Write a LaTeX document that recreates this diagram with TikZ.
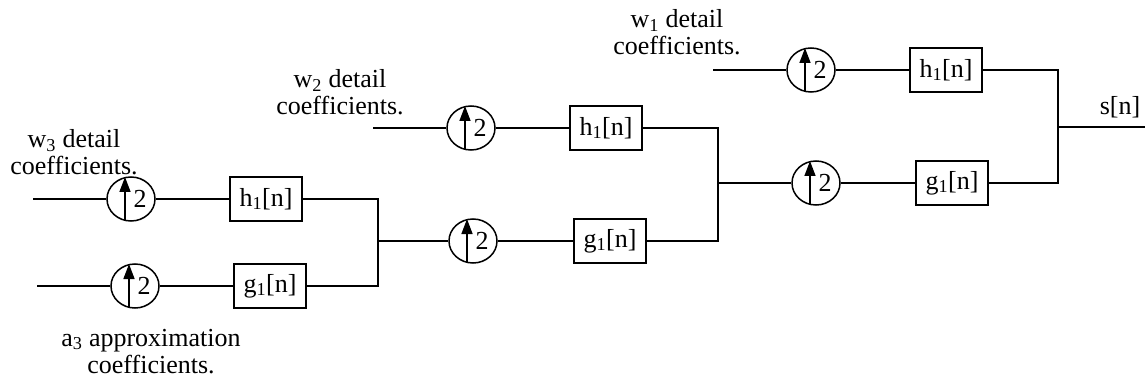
\documentclass[tikz,border=0pt]{standalone}
\usepackage{fontspec}
\setmainfont{Liberation Serif}
\usetikzlibrary{arrows.meta,shapes.geometric,calc}
\begin{document}
\begin{tikzpicture}[x=1pt,y=-1pt,
  line width=1.5pt,
  every node/.style={font=\fontsize{26}{27}\selectfont},
  upbox/.style={draw,ellipse,minimum width=48pt,minimum height=44pt,inner sep=0pt},
  filt/.style={draw,rectangle,minimum width=72pt,minimum height=44pt,inner sep=0pt},
  lbl/.style={align=center,inner sep=0pt,anchor=base},
  uparr/.style={-{Triangle[length=15pt,width=11pt]},line width=1.5pt}
]
\useasboundingbox (0,0) rectangle (1145,382);
% left stage
\coordinate (inA) at (33,199);
\coordinate (inB) at (37,286);
\node[upbox] (uA) at (131,199) {\hspace*{18pt}2};
\node[filt]  (hA) at (266,199) {h\textsubscript{1}[n]};
\node[upbox] (uB) at (135,286) {\hspace*{18pt}2};
\node[filt]  (gB) at (270,286) {g\textsubscript{1}[n]};
\coordinate (j1) at (378,241);
% middle stage
\coordinate (inD) at (373,128);
\node[upbox] (uD) at (471,128) {\hspace*{18pt}2};
\node[filt]  (hD) at (606,128) {h\textsubscript{1}[n]};
\node[upbox] (uC) at (473,241) {\hspace*{18pt}2};
\node[filt]  (gC) at (610,241) {g\textsubscript{1}[n]};
\coordinate (j2) at (718,183);
% right stage
\coordinate (inF) at (713,70);
\node[upbox] (uF) at (811,70) {\hspace*{18pt}2};
\node[filt]  (hF) at (946,70) {h\textsubscript{1}[n]};
\node[upbox] (uE) at (816,183) {\hspace*{18pt}2};
\node[filt]  (gE) at (952,183) {g\textsubscript{1}[n]};
\coordinate (j3) at (1058,127);
\coordinate (out) at (1145,127);
% arrows inside upsamplers
\foreach \n in {uA,uB,uC,uD,uE,uF}
  \draw[uparr] ($(\n.center)+(-6,21)$) -- ($(\n.center)+(-6,-22)$);
% connections
\draw (inA) -- (uA); \draw (uA) -- (hA);
\draw (inB) -- (uB); \draw (uB) -- (gB);
\draw (hA.east) -| (j1) |- (gB.east);
\draw (j1) -- (uC); \draw (uC) -- (gC);
\draw (inD) -- (uD); \draw (uD) -- (hD);
\draw (hD.east) -| (j2) |- (gC.east);
\draw (j2) -- (uE); \draw (uE) -- (gE);
\draw (inF) -- (uF); \draw (uF) -- (hF);
\draw (hF.east) -| (j3) |- (gE.east);
\draw (j3) -- (out);
% labels (anchor base = baseline of the last line)
\node[lbl] (w3) at (74,175) {w\textsubscript{3} detail\\coefficients.};
\node[lbl] (w2) at (340,115) {w\textsubscript{2} detail\\coefficients.};
\node[lbl] (w1) at (677,55) {w\textsubscript{1} detail\\coefficients.};
\node[lbl] (a3) at (151,373) {a\textsubscript{3} approximation\\coefficients.};
\node[lbl] (sn) at (1120,115) {s[n]};
\end{tikzpicture}
\end{document}
